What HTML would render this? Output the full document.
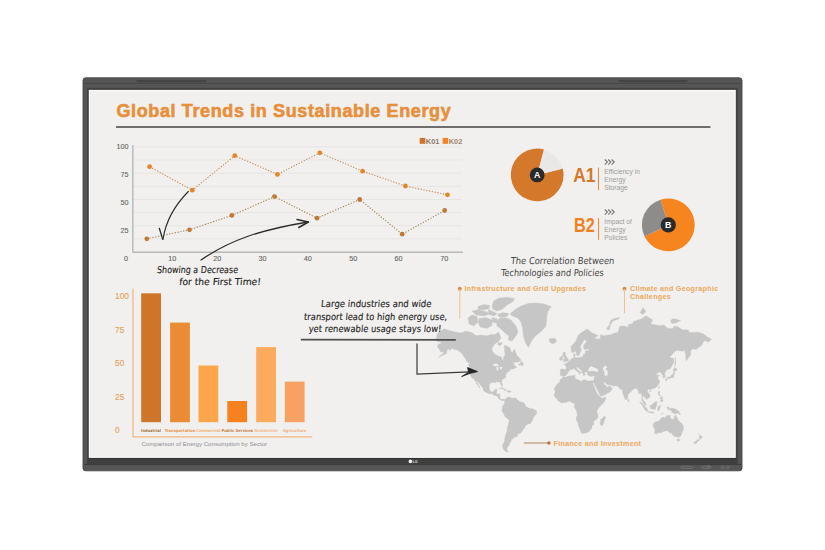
<!DOCTYPE html>
<html><head><meta charset="utf-8"><title>Global Trends in Sustainable Energy</title>
<style>
*{margin:0;padding:0;box-sizing:border-box}
html,body{width:825px;height:550px;background:#fff;overflow:hidden}
svg{position:absolute;left:0;top:0}
text{font-family:"Liberation Sans",sans-serif}
.title{font-weight:bold;font-size:18px;fill:#e78f3b;stroke:#e78f3b;stroke-width:0.6;letter-spacing:0.62px}
.ax{font-size:7.2px;fill:#676767;stroke:#676767;stroke-width:0.12}
.lg{font-size:7.4px;font-weight:bold}
.bl{font-size:8.2px;fill:#e2a462;stroke:#e2a462;stroke-width:0.15}
.cl{font-size:4.1px;font-family:"DejaVu Sans",sans-serif;font-stretch:condensed}
.cap{font-size:6.1px;fill:#8e8e96}
.pl{font-size:8.8px;font-weight:bold;fill:#fff}
.big{font-size:19.5px;font-weight:bold}
.sm{font-size:6.7px;fill:#9c9c9c}
.hw{font-family:"DejaVu Sans",sans-serif;font-stretch:condensed;font-size:9.5px;fill:#252525;stroke:#252525;stroke-width:0.12}
.hw2{fill:#484848;stroke:none}
.ml{font-size:7.2px;font-weight:bold;fill:#eca85e;letter-spacing:0.26px}
</style></head>
<body>
<svg width="825" height="550" viewBox="0 0 825 550">
<rect x="0" y="0" width="825" height="550" fill="#ffffff"/>
<rect x="83" y="77.8" width="659" height="393" rx="2.6" fill="#555555" stroke="#474747" stroke-width="0.9"/>
<rect x="84" y="82.9" width="657" height="0.9" fill="#464646"/>
<path d="M136,80.1 L207,80.1 L205.5,82.2 L137.5,82.2 Z" fill="#444"/>
<path d="M618.5,80.1 L688,80.1 L686.5,82.2 L620,82.2 Z" fill="#444"/>
<rect x="87" y="87.9" width="650.6" height="371.4" fill="#424242"/>
<rect x="88" y="457.8" width="648" height="1.4" fill="#333333"/>
<rect x="87" y="459.2" width="650.6" height="4.5" fill="#3d3d3d"/>
<rect x="88" y="461.2" width="648" height="0.5" fill="#4a4a4a"/>
<rect x="84" y="463.7" width="657" height="1.3" fill="#3d3d3d"/>
<rect x="84" y="467.4" width="657" height="0.6" fill="#5a5a5a"/>
<rect x="88.8" y="89.9" width="647" height="368" fill="#fbfbfb"/>
<rect x="90" y="91.1" width="644.6" height="365.6" fill="#f1f0ee"/>
<circle cx="410.4" cy="461.4" r="1.8" fill="#f2f2f2"/>
<text x="412.4" y="462.8" style="font-size:3.7px;fill:#d8d8d8;font-weight:bold">LG</text>
<g fill="none" stroke="#7c7c7c" stroke-width="0.6">
<rect x="681" y="466.3" width="11.5" height="2.2" rx="1.1"/><rect x="701.5" y="466.3" width="9.5" height="2.2" rx="1.1"/><circle cx="708.5" cy="466.8" r="1.4"/><circle cx="722.5" cy="467.3" r="1.4"/><circle cx="727.5" cy="467.3" r="1.4"/>
</g>
<path d="M510.4,313.5 L515.0,309.5 L521.0,306.0 L528.9,303.2 L536.0,303.0 L543.6,303.7 L551.3,306.5 L548.0,311.0 L546.9,316.8 L546.5,322.0 L545.8,326.6 L541.5,331.0 L534.9,336.5 L531.0,342.0 L528.4,347.4 L525.5,343.0 L523.5,336.5 L522.4,327.7 L520.7,321.2 L517.5,317.9 L510.9,315.2Z M492.0,306.0 L494.0,300.5 L499.0,298.0 L507.0,297.3 L514.5,298.5 L513.0,301.5 L507.0,305.0 L502.0,309.5 L497.0,311.0 L493.0,309.5Z M478.0,306.5 L484.0,304.5 L490.0,305.5 L489.0,308.5 L483.0,310.0 L478.0,309.5Z M472.0,311.0 L478.0,309.8 L486.0,311.5 L490.0,314.0 L484.0,316.0 L476.0,315.0Z M488.0,309.5 L493.0,311.5 L497.0,313.5 L494.0,316.0 L489.0,314.5Z M497.0,314.5 L503.0,312.5 L509.0,313.5 L507.0,316.5 L500.0,317.5Z M468.0,318.0 L472.0,314.8 L477.0,316.5 L478.0,322.0 L474.0,326.0 L469.0,324.0Z M479.0,318.5 L486.0,317.5 L492.0,320.0 L492.0,325.5 L487.0,328.5 L480.0,327.0 L478.0,322.0Z M492.0,317.5 L497.0,318.5 L496.0,323.0 L492.0,322.0Z M499.0,318.5 L505.0,317.5 L511.0,320.0 L516.0,326.0 L518.0,332.0 L516.0,336.0 L512.0,341.0 L508.0,340.0 L509.0,336.0 L505.0,333.0 L502.0,330.0 L497.0,326.0 L496.0,321.0Z M435.9,339.9 L437.4,333.7 L440.4,331.1 L444.3,328.8 L449.5,330.5 L456.3,332.3 L460.9,332.9 L466.2,331.1 L471.5,332.5 L476.0,335.4 L481.3,335.0 L486.6,335.8 L491.2,334.5 L495.0,334.5 L498.8,331.9 L501.0,338.2 L498.0,341.9 L495.0,343.7 L491.9,348.0 L492.7,351.6 L495.0,354.2 L498.8,356.3 L501.0,356.6 L502.2,359.6 L503.3,360.7 L503.5,357.2 L505.0,354.8 L504.5,350.5 L504.3,345.6 L506.4,345.8 L508.6,347.0 L510.1,348.0 L510.9,351.6 L512.4,352.4 L514.3,349.1 L516.2,353.5 L517.0,355.4 L520.0,358.4 L521.0,360.2 L519.8,361.0 L518.1,362.2 L514.3,362.2 L512.4,363.2 L514.3,363.5 L514.1,365.2 L517.0,367.3 L515.1,368.2 L513.2,369.0 L510.1,369.3 L509.7,370.8 L510.1,371.1 L508.6,371.6 L507.1,372.3 L506.9,373.3 L506.0,373.9 L505.6,375.6 L506.0,377.3 L504.8,377.9 L503.3,379.0 L501.8,380.6 L501.7,382.4 L502.6,384.9 L502.3,386.0 L501.7,386.0 L501.0,384.9 L500.4,383.7 L500.3,382.6 L499.4,381.9 L498.4,382.2 L497.3,381.7 L495.7,381.7 L495.4,382.8 L494.2,382.5 L491.9,382.3 L490.8,383.1 L489.5,384.1 L489.3,386.6 L489.3,388.3 L489.5,389.5 L490.2,390.9 L491.6,391.9 L493.5,391.5 L494.2,391.5 L494.6,389.9 L495.0,389.4 L497.3,389.1 L497.0,390.8 L496.7,391.8 L496.3,393.7 L498.0,393.8 L499.5,393.8 L500.1,394.9 L499.8,397.8 L500.7,398.9 L501.4,399.4 L502.9,399.0 L504.5,399.7 L503.9,400.6 L502.2,400.8 L501.0,399.9 L499.1,399.0 L498.2,398.6 L498.2,397.5 L496.9,396.1 L495.4,395.7 L493.8,395.3 L491.6,393.5 L490.1,393.9 L488.5,393.4 L486.6,392.6 L484.7,391.8 L483.2,390.3 L483.2,388.3 L482.1,387.0 L481.0,385.8 L479.8,384.3 L478.8,383.1 L477.9,382.1 L476.3,380.6 L476.8,381.9 L477.9,383.7 L478.7,385.4 L479.8,387.0 L479.9,388.0 L479.2,387.5 L478.3,386.4 L478.1,384.9 L476.4,384.1 L476.4,382.8 L475.3,381.5 L474.4,379.5 L473.4,378.4 L471.8,377.8 L470.8,376.1 L470.3,375.0 L469.4,373.7 L469.1,372.4 L469.1,369.8 L469.2,366.4 L468.7,364.2 L470.0,363.5 L468.8,362.7 L466.6,361.5 L466.2,359.6 L464.3,357.2 L463.1,355.4 L461.6,352.9 L460.1,352.1 L459.0,351.4 L457.5,350.1 L455.9,349.6 L454.0,349.6 L452.5,348.3 L451.0,349.1 L449.5,350.5 L448.1,348.5 L446.8,350.9 L446.5,353.5 L444.6,354.4 L443.4,354.8 L441.9,355.8 L440.4,356.6 L438.5,357.2 L440.0,355.7 L441.5,354.8 L443.1,353.5 L443.8,351.6 L442.3,351.9 L440.4,351.8 L440.0,350.0 L438.5,348.8 L437.8,347.1 L437.4,345.9 L438.5,344.2 L440.4,343.7 L441.2,341.9 L439.6,341.7 L437.4,341.7 L435.9,339.9Z M498.0,342.8 L501.8,342.4 L502.2,343.7 L500.3,345.8 L497.6,344.5Z M518.2,365.1 L520.8,362.7 L521.1,360.6 L523.0,363.0 L523.3,365.1 L522.6,366.0 L520.8,365.1Z M498.8,388.8 L501.0,387.7 L502.6,387.8 L504.7,389.0 L507.0,390.2 L504.3,390.4 L503.7,389.1 L501.2,388.5Z M506.8,391.6 L508.0,390.4 L510.2,390.7 L511.4,391.5 L509.2,392.4Z M504.5,399.7 L505.6,399.0 L506.0,398.1 L507.5,397.5 L508.8,396.6 L509.2,397.8 L510.1,396.8 L511.4,398.2 L514.7,398.1 L516.2,398.0 L517.0,399.7 L518.5,400.2 L520.0,401.8 L522.3,402.0 L524.2,403.0 L525.3,405.4 L526.1,407.0 L527.2,407.1 L529.5,408.5 L532.9,408.7 L535.2,410.3 L536.5,410.8 L536.8,412.3 L536.4,413.9 L534.6,416.0 L533.1,418.1 L532.7,419.9 L531.6,421.7 L530.2,423.7 L528.3,423.9 L525.8,425.3 L524.8,426.9 L524.4,428.2 L522.7,430.2 L520.9,432.7 L519.4,433.7 L517.6,434.0 L517.8,435.1 L517.0,436.7 L513.6,437.4 L513.2,439.1 L511.1,439.3 L511.4,440.7 L510.6,442.5 L508.8,443.6 L509.9,444.6 L507.8,446.5 L507.1,448.5 L507.3,450.9 L508.7,451.5 L507.6,452.0 L505.7,451.5 L504.3,450.4 L502.9,448.3 L502.5,445.1 L503.5,443.2 L504.5,441.4 L504.8,438.4 L505.2,436.0 L507.0,431.1 L507.4,427.7 L508.5,424.1 L509.2,420.3 L508.4,419.3 L505.2,417.1 L504.7,415.7 L502.9,412.3 L501.7,410.8 L502.2,408.9 L502.5,407.0 L502.6,405.8 L503.5,405.2 L504.5,403.4 L504.6,401.2 L504.2,400.8Z M550.5,342.8 L549.0,340.1 L550.1,338.4 L554.7,338.2 L556.6,340.1 L556.2,341.9 L553.2,343.8 L550.9,343.1Z M554.2,389.5 L554.9,387.5 L556.2,385.4 L557.3,383.9 L559.8,381.9 L559.9,379.7 L562.0,378.4 L562.7,376.7 L565.7,377.3 L568.0,376.1 L571.0,375.8 L574.6,375.3 L575.5,375.6 L574.9,377.2 L575.5,378.8 L578.7,379.9 L581.8,381.7 L582.4,380.2 L584.6,379.5 L586.3,380.5 L589.2,381.1 L591.7,380.8 L593.1,380.8 L593.7,382.4 L592.6,383.7 L591.8,382.0 L593.7,385.4 L595.4,389.5 L596.4,392.0 L597.4,394.1 L599.4,396.5 L600.0,396.5 L600.9,398.3 L606.0,397.0 L605.9,398.2 L604.7,401.2 L603.4,403.0 L600.6,405.8 L598.7,407.9 L597.2,410.0 L597.0,412.7 L597.8,414.6 L598.0,417.8 L595.1,420.4 L593.6,421.4 L594.0,424.5 L591.9,425.9 L592.1,428.1 L590.7,429.4 L588.8,431.7 L586.6,432.9 L582.4,433.6 L581.1,433.0 L580.8,431.5 L579.7,428.2 L578.7,426.7 L578.2,423.5 L576.1,419.4 L576.5,416.8 L577.5,415.4 L576.5,411.3 L576.1,410.0 L574.3,407.4 L574.6,404.6 L574.3,403.4 L573.6,403.0 L572.1,403.2 L570.6,401.6 L568.3,401.6 L565.7,402.8 L563.8,402.4 L561.5,403.1 L560.0,402.2 L557.7,400.6 L557.1,399.1 L555.8,397.8 L554.5,396.5 L553.9,394.7 L554.7,393.4 L555.1,391.6Z M604.6,415.7 L605.5,418.1 L604.7,419.2 L604.0,421.7 L602.8,425.3 L601.3,425.7 L600.2,424.1 L600.2,422.5 L600.9,421.0 L600.6,419.3 L602.4,418.3 L603.6,416.7Z M560.0,373.9 L560.5,375.6 L562.3,375.8 L563.0,376.6 L565.7,375.8 L567.2,374.1 L567.8,372.3 L569.6,370.9 L569.5,369.7 L570.6,369.4 L572.1,369.7 L573.6,368.5 L574.9,368.9 L575.7,370.4 L577.8,371.8 L579.1,372.8 L579.3,374.5 L580.1,373.7 L581.2,372.6 L580.1,371.8 L579.3,370.9 L577.8,370.0 L576.7,368.5 L576.5,367.4 L577.6,367.1 L578.6,368.3 L580.5,369.8 L582.0,370.8 L581.9,372.3 L583.1,374.2 L583.9,376.1 L584.6,374.8 L585.4,374.5 L584.3,372.5 L585.4,372.0 L586.9,372.0 L587.1,372.8 L587.3,373.3 L587.8,374.9 L588.8,375.9 L590.3,376.3 L591.8,376.5 L593.4,375.8 L594.5,375.8 L594.4,377.0 L594.1,378.4 L593.7,379.7 L593.2,380.8 L593.7,382.4 L594.9,385.4 L596.4,387.5 L596.9,389.1 L598.3,391.6 L599.6,394.1 L600.0,396.4 L601.3,396.1 L604.0,395.3 L606.6,393.8 L608.9,392.4 L610.4,391.4 L611.5,389.9 L612.5,388.3 L611.7,387.4 L610.0,386.5 L609.8,385.1 L609.3,385.8 L608.1,387.0 L606.3,386.8 L606.2,385.4 L605.2,385.4 L604.0,383.4 L603.6,382.0 L604.3,381.8 L605.3,382.5 L606.2,383.8 L608.5,384.9 L610.0,384.4 L611.2,385.6 L613.9,386.0 L617.6,385.9 L618.4,387.1 L619.4,388.3 L620.4,389.5 L622.2,389.3 L622.4,391.2 L622.9,393.7 L623.9,396.3 L625.0,399.0 L625.9,400.1 L626.5,399.5 L627.7,398.3 L628.0,395.7 L628.1,393.8 L629.5,393.2 L631.6,391.0 L633.1,389.3 L634.3,389.0 L635.8,388.3 L636.8,388.5 L637.2,389.5 L638.6,391.4 L638.8,393.5 L641.1,393.3 L641.9,396.0 L641.9,398.6 L641.7,400.2 L643.4,403.6 L644.0,404.4 L645.7,405.6 L646.2,405.5 L645.6,403.0 L644.7,401.6 L643.5,400.8 L642.9,399.1 L642.4,398.2 L643.0,395.7 L643.7,396.5 L644.9,397.0 L645.3,398.1 L646.6,399.7 L646.9,398.8 L648.2,398.3 L650.0,397.3 L650.0,395.8 L649.6,394.1 L647.9,392.3 L647.3,391.2 L648.1,389.8 L649.1,389.1 L650.4,389.1 L650.9,390.0 L651.3,389.1 L653.2,388.5 L655.5,388.0 L657.0,386.5 L657.9,385.5 L658.5,384.3 L659.6,382.0 L659.6,381.1 L658.8,379.6 L657.6,377.9 L658.5,376.1 L660.1,375.4 L658.8,374.9 L657.4,375.4 L656.6,374.4 L656.3,373.7 L657.4,373.3 L659.3,371.9 L659.8,372.3 L661.4,372.9 L662.1,375.0 L663.1,375.2 L662.9,377.8 L664.8,377.4 L665.4,376.6 L665.2,375.2 L664.5,374.1 L665.5,371.8 L666.3,370.5 L667.5,369.6 L669.8,368.9 L671.3,367.2 L672.0,365.7 L673.7,362.4 L673.7,358.8 L674.4,358.7 L671.0,357.8 L669.7,356.9 L671.6,354.9 L673.7,353.1 L675.2,350.9 L677.5,350.6 L679.8,350.8 L682.4,351.3 L684.7,350.5 L685.4,353.5 L685.8,356.6 L686.0,361.3 L687.3,359.2 L688.5,357.8 L690.4,355.2 L691.0,352.9 L690.0,352.1 L691.9,349.6 L693.0,349.1 L696.4,349.6 L698.0,348.0 L701.7,345.4 L703.3,341.9 L705.2,340.4 L708.2,342.2 L709.7,341.0 L711.4,338.9 L707.4,337.1 L703.6,333.9 L697.6,331.9 L693.4,332.5 L689.2,332.3 L688.1,329.9 L682.4,329.7 L677.9,326.8 L674.1,326.1 L672.9,328.4 L668.0,328.4 L665.4,326.6 L664.2,325.0 L659.7,325.5 L653.2,324.4 L650.6,323.6 L652.9,320.0 L649.1,317.8 L646.3,315.8 L641.9,318.5 L640.0,319.4 L637.7,320.0 L633.1,321.6 L632.8,323.6 L628.2,324.6 L628.4,327.4 L626.3,326.6 L624.1,325.9 L622.2,325.9 L619.5,326.5 L618.0,332.5 L617.2,332.5 L612.7,333.5 L611.2,334.5 L608.1,335.0 L603.6,335.8 L600.6,334.5 L600.2,338.8 L597.5,339.1 L594.5,337.7 L598.3,335.8 L596.0,334.5 L592.2,332.9 L588.4,329.7 L586.8,329.3 L583.1,331.5 L580.1,333.5 L577.8,335.8 L576.7,339.1 L575.2,341.9 L573.6,343.7 L571.1,345.9 L571.0,348.8 L571.4,351.6 L572.5,352.9 L573.4,352.6 L575.2,350.9 L575.9,352.1 L576.3,353.5 L576.8,355.4 L578.0,356.1 L579.3,355.2 L579.9,353.0 L581.5,350.5 L580.5,348.0 L580.5,345.8 L582.0,343.7 L583.5,341.0 L584.1,339.5 L586.5,341.0 L586.2,342.2 L583.5,345.4 L583.5,348.0 L584.6,349.8 L586.9,349.0 L589.8,349.6 L588.4,350.6 L585.4,350.8 L585.0,352.1 L585.6,353.9 L583.2,354.2 L583.1,355.4 L583.1,356.3 L582.2,357.2 L581.2,357.0 L579.3,357.6 L577.8,357.8 L575.9,357.6 L575.4,357.7 L574.8,356.9 L575.2,354.8 L575.2,353.2 L574.4,354.0 L573.3,354.8 L573.7,356.3 L573.8,358.0 L572.5,358.3 L571.0,358.8 L570.7,359.8 L569.9,360.7 L568.7,361.3 L568.3,362.2 L567.2,363.0 L566.3,362.9 L565.8,363.9 L563.6,364.1 L565.5,365.5 L566.3,366.8 L566.1,369.4 L564.2,369.3 L561.1,369.1 L560.2,369.8 L560.6,371.3Z M562.9,362.3 L564.9,361.8 L568.3,361.1 L568.5,359.5 L567.4,358.4 L567.0,357.2 L566.1,356.0 L565.7,355.4 L565.1,354.8 L565.8,353.4 L564.5,351.9 L563.4,351.9 L562.9,354.2 L562.5,355.0 L563.0,356.3 L563.5,356.9 L564.9,357.7 L564.9,358.7 L563.7,358.7 L563.8,359.9 L563.3,360.5 L564.8,360.9Z M562.7,359.9 L562.5,358.0 L562.7,356.4 L561.7,356.1 L560.8,357.2 L559.6,357.8 L559.7,360.1 L560.8,360.6Z M666.4,378.4 L667.6,377.0 L669.9,376.9 L670.9,375.5 L672.9,374.2 L673.3,372.3 L674.4,371.4 L674.8,373.3 L674.1,374.5 L674.0,376.1 L673.5,377.4 L672.4,377.8 L671.0,377.8 L669.9,378.8 L667.6,378.2Z M665.4,378.8 L667.2,379.1 L666.8,380.7 L665.9,380.9Z M673.3,371.3 L673.2,370.3 L674.5,367.4 L677.5,369.5 L675.8,370.8 L674.1,371.0Z M674.8,366.8 L675.8,363.5 L675.4,357.5 L675.1,357.6 L674.8,362.4 L674.7,366.1Z M658.2,387.9 L659.3,386.0 L659.6,386.6 L658.8,388.7Z M649.5,391.0 L650.7,390.3 L651.3,390.7 L650.3,391.9 L649.5,391.6Z M627.8,401.4 L627.8,399.8 L628.0,398.7 L628.7,399.8 L629.2,400.8 L628.8,401.6 L628.2,401.9Z M658.6,391.6 L659.9,391.6 L659.7,393.1 L659.4,395.1 L661.2,396.1 L660.8,396.5 L658.6,395.1 L658.0,393.4Z M659.7,401.0 L660.9,400.2 L662.3,398.7 L663.2,400.8 L662.3,402.1 L661.2,401.6Z M659.7,398.6 L660.8,397.4 L662.2,396.5 L662.6,398.2 L661.6,399.0 L660.4,399.2Z M649.8,405.4 L650.2,407.4 L650.7,408.8 L652.9,409.0 L655.1,409.7 L655.5,408.5 L656.3,406.0 L657.3,405.6 L656.4,403.2 L657.6,402.3 L655.9,401.0 L654.7,402.6 L653.5,402.9 L651.3,405.2Z M639.4,402.1 L641.1,402.4 L643.3,404.8 L645.9,407.4 L647.5,409.0 L647.4,411.0 L646.4,411.1 L644.7,409.7 L643.2,407.0 L642.0,405.2Z M646.9,411.8 L647.6,411.2 L649.3,411.4 L651.0,411.7 L652.6,411.8 L654.1,412.6 L653.9,413.3 L651.3,412.9 L649.1,412.6 L647.2,412.0Z M657.8,410.8 L657.6,408.7 L658.5,406.0 L661.9,405.4 L660.4,406.3 L659.1,407.3 L660.7,407.3 L659.7,408.5 L659.4,410.3 L658.5,410.8Z M666.5,407.6 L667.6,406.9 L669.2,407.4 L669.9,409.2 L671.4,407.7 L674.1,408.6 L676.7,409.5 L677.9,410.8 L679.0,411.4 L679.4,412.7 L680.9,414.5 L679.0,414.3 L677.9,413.0 L676.0,413.5 L675.2,413.7 L674.1,413.6 L672.6,412.8 L671.8,413.0 L671.7,410.7 L669.5,410.0 L668.0,409.7 L667.3,408.7 L668.4,408.3Z M661.2,414.4 L663.5,413.0 L662.3,413.1 L660.8,414.5Z M653.0,426.1 L653.6,422.9 L655.7,421.8 L658.9,421.0 L659.9,419.6 L660.8,418.8 L662.0,417.8 L663.1,417.0 L664.4,417.8 L665.4,417.7 L666.0,416.1 L667.7,415.3 L670.9,415.8 L670.3,416.7 L669.9,417.7 L671.6,418.7 L673.7,419.6 L674.5,416.4 L675.2,414.8 L676.0,416.0 L676.7,417.3 L677.4,417.8 L678.1,420.6 L680.0,421.7 L681.5,423.3 L683.2,425.4 L683.6,428.2 L683.2,430.2 L681.9,432.7 L680.9,436.0 L678.2,437.5 L676.4,436.7 L674.1,436.6 L673.0,435.1 L671.8,434.3 L671.7,432.0 L670.3,433.6 L668.8,431.5 L666.6,430.7 L663.5,431.4 L661.2,432.8 L658.2,432.8 L656.6,433.9 L654.4,433.1 L654.9,430.8 L654.3,428.5Z M676.9,439.1 L679.6,439.2 L679.6,440.4 L678.6,441.4 L677.3,440.7Z M698.1,433.2 L699.5,434.7 L700.5,436.0 L702.5,436.2 L702.0,437.6 L701.3,438.0 L700.1,439.9 L699.5,439.5 L700.0,438.6 L698.9,437.6 L699.5,436.5 L699.5,435.4Z M698.0,438.9 L699.2,440.0 L698.5,441.0 L697.0,442.1 L696.6,443.1 L694.8,443.7 L693.4,443.0 L694.7,441.7 L696.4,441.0 L697.6,439.3Z M606.6,328.4 L609.3,325.0 L610.4,320.6 L614.2,318.5 L619.5,317.4 L618.7,319.1 L613.4,320.8 L610.4,324.6 L609.6,329.5 L607.8,329.9Z M640.0,312.8 L643.0,307.6 L646.0,311.6 L643.0,314.4Z M670.3,320.6 L673.3,318.5 L680.9,320.6 L677.1,322.6 L671.8,323.6Z" fill="#c6c6c6" stroke="#c6c6c6" stroke-width="0.3" stroke-linejoin="round"/>
<path d="M588.0,370.8 L588.4,369.3 L589.6,367.6 L590.7,366.1 L592.2,366.8 L593.7,367.6 L595.6,368.0 L596.8,368.5 L598.7,370.8 L597.5,371.8 L594.5,371.3 L592.2,370.8 L589.9,371.6Z M602.8,368.3 L604.3,366.2 L605.9,365.7 L607.4,367.3 L605.9,368.3 L605.9,369.8 L607.4,370.8 L607.8,372.8 L607.4,375.6 L605.9,376.0 L604.7,375.2 L604.3,373.7 L604.7,372.3 L603.6,370.8 L603.2,369.3Z M493.5,363.8 L496.5,363.5 L499.1,365.9 L496.9,366.2 L493.5,365.9Z M496.6,366.8 L498.4,367.3 L498.4,369.8 L497.3,371.0 L496.5,369.8Z M499.5,366.8 L502.6,367.3 L501.4,369.3 L500.7,369.8 L499.9,368.3Z" fill="#f0efed"/>
<line x1="133" y1="146.9" x2="462" y2="146.9" stroke="#e6e5e3" stroke-width="1"/>
<line x1="133" y1="160.0" x2="462" y2="160.0" stroke="#e6e5e3" stroke-width="1"/>
<line x1="133" y1="173.2" x2="462" y2="173.2" stroke="#e6e5e3" stroke-width="1"/>
<line x1="133" y1="186.3" x2="462" y2="186.3" stroke="#e6e5e3" stroke-width="1"/>
<line x1="133" y1="199.5" x2="462" y2="199.5" stroke="#e6e5e3" stroke-width="1"/>
<line x1="133" y1="212.6" x2="462" y2="212.6" stroke="#e6e5e3" stroke-width="1"/>
<line x1="133" y1="225.7" x2="462" y2="225.7" stroke="#e6e5e3" stroke-width="1"/>
<line x1="133" y1="238.9" x2="462" y2="238.9" stroke="#e6e5e3" stroke-width="1"/>
<line x1="133" y1="252.2" x2="463" y2="252.2" stroke="#b9b8b6" stroke-width="1.6"/>
<line x1="132.8" y1="145" x2="132.8" y2="252.5" stroke="#b9b8b6" stroke-width="1.4"/>
<text x="128.5" y="149.1" text-anchor="end" class="ax">100</text>
<text x="128.5" y="177.0" text-anchor="end" class="ax">75</text>
<text x="128.5" y="205.2" text-anchor="end" class="ax">50</text>
<text x="128.5" y="233.3" text-anchor="end" class="ax">25</text>
<text x="126" y="261.3" text-anchor="middle" class="ax">0</text>
<text x="172.3" y="261.3" text-anchor="middle" class="ax">10</text>
<text x="217.3" y="261.3" text-anchor="middle" class="ax">20</text>
<text x="262.4" y="261.3" text-anchor="middle" class="ax">30</text>
<text x="307.8" y="261.3" text-anchor="middle" class="ax">40</text>
<text x="353.3" y="261.3" text-anchor="middle" class="ax">50</text>
<text x="398.5" y="261.3" text-anchor="middle" class="ax">60</text>
<text x="444.2" y="261.3" text-anchor="middle" class="ax">70</text>
<polyline points="149.6,166.7 192.3,190.2 234.8,155.7 277.4,174.4 319.8,152.8 362.6,171.2 405.4,186 447.5,194.8" fill="none" stroke="#c6935e" stroke-width="1.15" stroke-dasharray="1.3 1.55"/>
<circle cx="149.6" cy="166.7" r="2.4" fill="#e3852d"/>
<circle cx="192.3" cy="190.2" r="2.4" fill="#e3852d"/>
<circle cx="234.8" cy="155.7" r="2.4" fill="#e3852d"/>
<circle cx="277.4" cy="174.4" r="2.4" fill="#e3852d"/>
<circle cx="319.8" cy="152.8" r="2.4" fill="#e3852d"/>
<circle cx="362.6" cy="171.2" r="2.4" fill="#e3852d"/>
<circle cx="405.4" cy="186" r="2.4" fill="#e3852d"/>
<circle cx="447.5" cy="194.8" r="2.4" fill="#e3852d"/>
<polyline points="146.8,238.8 189.5,229.8 231.9,215.4 274.5,196.6 317,218.2 359.7,199.5 402.2,234.2 444.7,210.5" fill="none" stroke="#aa8a66" stroke-width="1.15" stroke-dasharray="1.3 1.55"/>
<circle cx="146.8" cy="238.8" r="2.4" fill="#c27934"/>
<circle cx="189.5" cy="229.8" r="2.4" fill="#c27934"/>
<circle cx="231.9" cy="215.4" r="2.4" fill="#c27934"/>
<circle cx="274.5" cy="196.6" r="2.4" fill="#c27934"/>
<circle cx="317" cy="218.2" r="2.4" fill="#c27934"/>
<circle cx="359.7" cy="199.5" r="2.4" fill="#c27934"/>
<circle cx="402.2" cy="234.2" r="2.4" fill="#c27934"/>
<circle cx="444.7" cy="210.5" r="2.4" fill="#c27934"/>
<rect x="419.7" y="137.9" width="5.6" height="5.9" fill="#d0742c"/>
<text x="425.8" y="143.8" class="lg" fill="#8d7866">K01</text>
<rect x="442.6" y="137.9" width="5.6" height="5.9" fill="#f28424"/>
<text x="448.7" y="143.8" class="lg" fill="#9e8670">K02</text>
<path d="M188.3,191.5 C176,204 166,220 163,239" fill="none" stroke="#2d2d2d" stroke-width="1.15" stroke-linecap="round"/>
<path d="M159.3,228.3 L162.8,239.5" fill="none" stroke="#2d2d2d" stroke-width="1.3" stroke-linecap="round"/>
<path d="M201,260 C230,240 260,230 308,222" fill="none" stroke="#2d2d2d" stroke-width="1.3" stroke-linecap="round"/>
<path d="M297,219.5 L308.4,222 L298.7,227.5" fill="none" stroke="#2d2d2d" stroke-width="1.5" stroke-linecap="round" stroke-linejoin="round"/>
<line x1="133" y1="288.6" x2="133" y2="437" stroke="#f3b57c" stroke-width="1.2"/>
<line x1="132.5" y1="436.8" x2="312.3" y2="436.8" stroke="#f3b57c" stroke-width="1.3"/>
<text x="115.1" y="299.4" class="bl">100</text>
<text x="115.1" y="332.8" class="bl">75</text>
<text x="115.1" y="366.2" class="bl">50</text>
<text x="115.1" y="399.6" class="bl">25</text>
<text x="115.1" y="432.8" class="bl">0</text>
<rect x="141.2" y="293.3" width="19.8" height="128.9" fill="#cf7529"/>
<rect x="170.1" y="322.6" width="19.8" height="99.6" fill="#e98c33"/>
<rect x="198.5" y="365.5" width="19.8" height="56.7" fill="#fba64a"/>
<rect x="227.3" y="401" width="19.8" height="21.2" fill="#f5821f"/>
<rect x="256.2" y="347.1" width="19.8" height="75.1" fill="#fcaa5c"/>
<rect x="284.8" y="381.6" width="19.8" height="40.6" fill="#f9a162"/>
<text x="151.1" y="431.9" text-anchor="middle" class="cl" fill="#a8703e" font-weight="bold">Industrial</text>
<text x="180.0" y="431.9" text-anchor="middle" class="cl" fill="#e9954a" font-weight="bold">Transportation</text>
<text x="208.4" y="431.9" text-anchor="middle" class="cl" fill="#f4b276" font-weight="bold">Commercial</text>
<text x="237.2" y="431.9" text-anchor="middle" class="cl" fill="#cc7e3a" font-weight="bold">Public Services</text>
<text x="266.1" y="431.9" text-anchor="middle" class="cl" fill="#f5bb8c" font-weight="bold">Residential</text>
<text x="294.7" y="431.9" text-anchor="middle" class="cl" fill="#f2b282" font-weight="bold">Agriculture</text>
<text x="141.4" y="446.3" class="cap">Comparison of Energy Consumption by Sector</text>
<path d="M537.2,174.9 L562.82,168.51 A26.4,26.4 0 1 1 544.03,149.40 Z" fill="#d4782b"/>
<path d="M537.2,174.9 L543.90,149.88 A25.9,25.9 0 0 1 562.33,168.63 Z" fill="#e9e8e7"/>
<circle cx="537.2" cy="174.9" r="7.4" fill="#2a2a2a"/>
<text x="537.2" y="177.8" text-anchor="middle" class="pl">A</text>
<path d="M668.3,224.9 L660.58,199.65 A26.4,26.4 0 1 1 644.57,236.47 Z" fill="#f7851f"/>
<path d="M668.3,224.9 L644.57,236.47 A26.4,26.4 0 0 1 660.58,199.65 Z" fill="#8d8c8b"/>
<circle cx="668.3" cy="224.9" r="7.6" fill="#2a2a2a"/>
<text x="668.3" y="227.8" text-anchor="middle" class="pl">B</text>
<text x="573.2" y="182" class="big" fill="#d4782a" textLength="22.2" lengthAdjust="spacingAndGlyphs">A1</text>
<text x="573.9" y="232" class="big" fill="#f2801f" textLength="20.8" lengthAdjust="spacingAndGlyphs">B2</text>
<line x1="598.5" y1="167.5" x2="598.5" y2="190.2" stroke="#e09050" stroke-width="1.1"/>
<line x1="598.5" y1="218" x2="598.5" y2="239.8" stroke="#f0903a" stroke-width="1.1"/>
<path d="M604.8,159.5 L607.4,162.1 L604.8,164.7" fill="none" stroke="#7a7a7a" stroke-width="1.2"/>
<path d="M608.2,159.5 L610.8,162.1 L608.2,164.7" fill="none" stroke="#7a7a7a" stroke-width="1.2"/>
<path d="M611.6,159.5 L614.2,162.1 L611.6,164.7" fill="none" stroke="#7a7a7a" stroke-width="1.2"/>
<path d="M604.8,209.5 L607.4,212.1 L604.8,214.7" fill="none" stroke="#7a7a7a" stroke-width="1.2"/>
<path d="M608.2,209.5 L610.8,212.1 L608.2,214.7" fill="none" stroke="#7a7a7a" stroke-width="1.2"/>
<path d="M611.6,209.5 L614.2,212.1 L611.6,214.7" fill="none" stroke="#7a7a7a" stroke-width="1.2"/>
<text x="604.3" y="173.8" class="sm">Efficiency in</text>
<text x="604.3" y="182.1" class="sm">Energy</text>
<text x="604.3" y="190.3" class="sm">Storage</text>
<text x="604.3" y="223.8" class="sm">Impact of</text>
<text x="604.3" y="232.1" class="sm">Energy</text>
<text x="604.3" y="240.3" class="sm">Policies</text>
<text x="116.5" y="116.8" class="title">Global Trends in Sustainable Energy</text>
<line x1="116" y1="127" x2="710.5" y2="127" stroke="#6f6e6c" stroke-width="1.8"/>
<g transform="translate(156.8,273) skewX(-5)"><text x="0" y="0" class="hw" textLength="81" lengthAdjust="spacingAndGlyphs">Showing a Decrease</text></g>
<g transform="translate(178.9,284.8) skewX(-5)"><text x="0" y="0" class="hw" textLength="81.8" lengthAdjust="spacingAndGlyphs">for the First Time!</text></g>
<g transform="translate(510.4,263.6) skewX(-5)"><text x="0" y="0" class="hw hw2" textLength="103.7" lengthAdjust="spacingAndGlyphs">The Correlation Between</text></g>
<g transform="translate(500.7,275.6) skewX(-5)"><text x="0" y="0" class="hw hw2" textLength="102.8" lengthAdjust="spacingAndGlyphs">Technologies and Policies</text></g>
<g transform="translate(320.8,307.2) skewX(-5)"><text x="0" y="0" class="hw" textLength="110.5" lengthAdjust="spacingAndGlyphs">Large industries and wide</text></g>
<g transform="translate(303.8,319.8) skewX(-5)"><text x="0" y="0" class="hw" textLength="143.2" lengthAdjust="spacingAndGlyphs">transport lead to high energy use,</text></g>
<g transform="translate(308.4,332.4) skewX(-5)"><text x="0" y="0" class="hw" textLength="132.8" lengthAdjust="spacingAndGlyphs">yet renewable usage stays low!</text></g>
<line x1="300.8" y1="339.6" x2="455.8" y2="339.9" stroke="#505050" stroke-width="1.6"/>
<path d="M417,343.4 L417,374 L475,371.6" fill="none" stroke="#3a3a3a" stroke-width="1.2"/>
<path d="M467.6,367.6 L477.6,371.6 L469.5,373.6 L461.6,376.6 L468.5,372.2 Z" fill="#262626" stroke="#262626" stroke-width="0.8" stroke-linejoin="round"/>
<circle cx="459.8" cy="288.8" r="2" fill="#dc8c48"/>
<line x1="459.8" y1="289" x2="459.8" y2="318.6" stroke="#f0c090" stroke-width="1"/>
<text x="464.5" y="291.4" class="ml">Infrastructure and Grid Upgrades</text>
<circle cx="624.5" cy="288.8" r="2" fill="#dc8c48"/>
<line x1="624.5" y1="289" x2="624.5" y2="313.2" stroke="#f0c090" stroke-width="1"/>
<text x="630" y="291.4" class="ml">Climate and Geographic</text>
<text x="630" y="299.4" class="ml">Challenges</text>
<line x1="523.8" y1="443" x2="548.9" y2="443" stroke="#b08a60" stroke-width="1"/>
<circle cx="548.9" cy="443" r="1.8" fill="#c07a3a"/>
<text x="553.6" y="445.6" class="ml">Finance and Investment</text>
</svg>
</body></html>
